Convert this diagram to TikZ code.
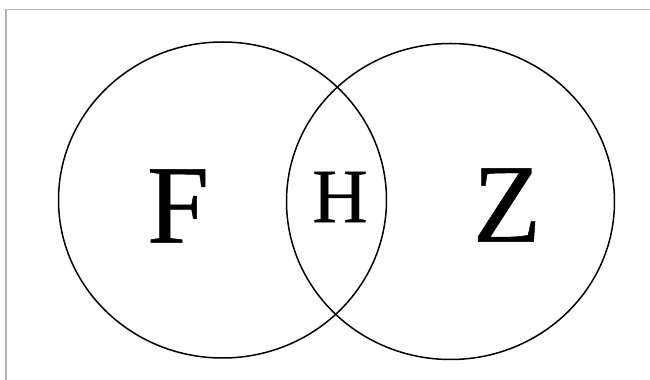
\documentclass[tikz,border=0pt]{standalone}
\usepackage{fontspec}
\setmainfont{Liberation Serif}
\newfontfamily\setfont[FakeBold=0.4]{Liberation Serif}
\usetikzlibrary{shapes.geometric}
\definecolor{framegray}{RGB}{180,180,180}

\begin{document}
\begin{tikzpicture}[x=0.5pt, y=0.5pt,
      setring/.style={draw, ellipse, line width=0.75pt, inner sep=0pt,
                      minimum width=164pt, minimum height=158pt},
      biglabel/.style={inner sep=0pt, font=\setfont\fontsize{56}{60}\selectfont},
      midlabel/.style={inner sep=0pt, font=\setfont\fontsize{38.5}{42}\selectfont}
    ]
    \useasboundingbox (0,0) rectangle (650,380);
    % page frame
    \draw[framegray, line width=0.5pt] (6,0) -- (6,370) -- (650,370);

    \node[setring] (fset) at (222.5,180) {};
    \node[setring] (zset) at (450.5,178.5) {};

    \node[biglabel] (flabel) at (178,174) {F};
    \node[midlabel] (hlabel) at (340,183) {H};
    \node[biglabel] (zlabel) at (507,175) {Z};
  \end{tikzpicture}
\end{document}
